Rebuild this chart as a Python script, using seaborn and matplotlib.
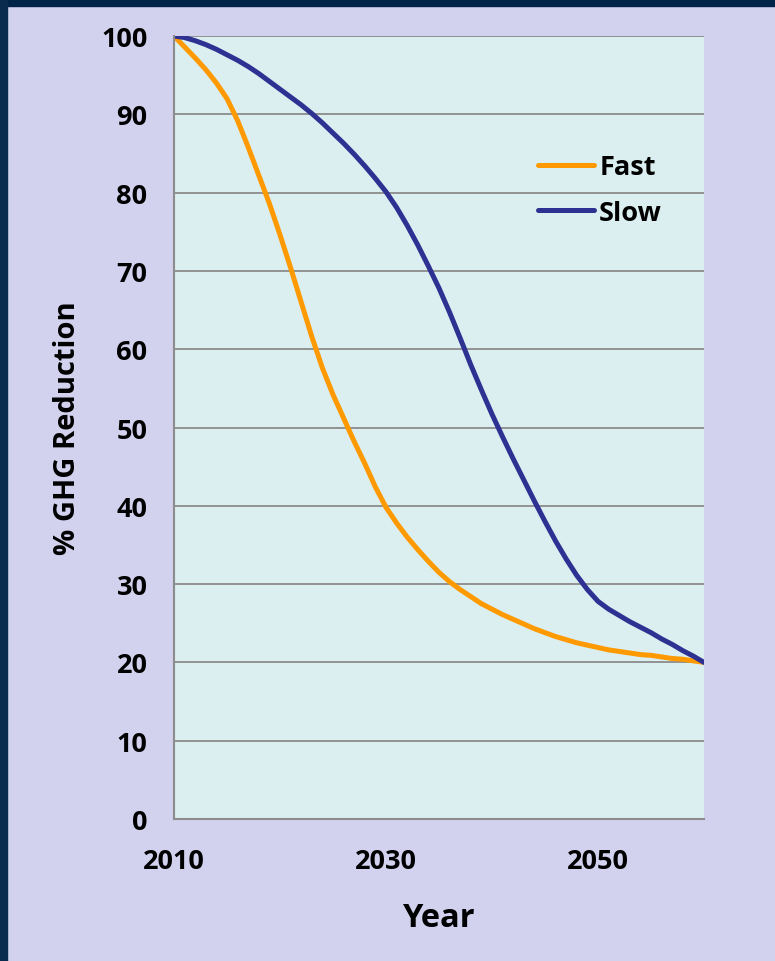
import numpy as np
import pandas as pd
import seaborn as sns
import matplotlib.pyplot as plt
from matplotlib.patches import Rectangle

# valeurs (une par année)
years = list(range(2010, 2061))
fast = [100, 98.6, 97.2, 95.7, 94.0, 92.0, 89.2, 85.8, 82.2, 78.6,
        74.6, 70.4, 66.0, 61.6, 57.6, 54.2, 51.2, 48.2, 45.4, 42.4,
        39.8, 37.8, 36.0, 34.4, 32.9, 31.5, 30.3, 29.3, 28.4, 27.5,
        26.8, 26.1, 25.5, 24.9, 24.3, 23.8, 23.3, 22.9, 22.5, 22.2,
        21.9, 21.6, 21.4, 21.2, 21.0, 20.9, 20.7, 20.5, 20.4, 20.2,
        20.0]
slow = [100, 99.8, 99.4, 98.9, 98.3, 97.6, 96.9, 96.1, 95.2, 94.2,
        93.2, 92.2, 91.2, 90.1, 88.9, 87.6, 86.3, 84.9, 83.4, 81.8,
        80.1, 78.1, 75.8, 73.3, 70.6, 67.8, 64.7, 61.4, 58.0, 54.8,
        51.7, 48.8, 46.0, 43.3, 40.6, 38.0, 35.5, 33.2, 31.1, 29.3,
        27.8, 26.8, 26.0, 25.2, 24.5, 23.8, 23.0, 22.3, 21.5, 20.8,
        20.0]
series = ["Fast", "Slow"]
colors = ["#FF9900", "#2E3192"]
xticks = [2010, 2030, 2050]
yticks = list(range(0, 101, 10))

df = pd.DataFrame({"Year": years * 2,
                   "value": fast + slow,
                   "serie": ["Fast"] * len(years) + ["Slow"] * len(years)})

sns.set_style("white")
plt.rcParams['font.family'] = ['Open Sans', 'DejaVu Sans']
plt.rcParams['text.color'] = 'black'
plt.rcParams['axes.labelcolor'] = 'black'
plt.rcParams['xtick.labelcolor'] = 'black'
plt.rcParams['ytick.labelcolor'] = 'black'

fig = plt.figure(figsize=(7.75, 9.62), dpi=100)
fig.patch.set_facecolor("#D2D2EF")
# bordure sombre en haut et à gauche
fig.patches.append(Rectangle((0, 1 - 7 / 962), 1, 7 / 962, transform=fig.transFigure,
                             color="#00234A", zorder=0))
fig.patches.append(Rectangle((0, 0), 7 / 775, 1, transform=fig.transFigure,
                             color="#0A2A4E", zorder=0))

ax = fig.add_axes([174 / 775, 1 - 820 / 962, 530 / 775, 783 / 962])
ax.set_facecolor("#DBEEF0")

sns.lineplot(data=df, x="Year", y="value", hue="serie", hue_order=series,
             palette=colors, linewidth=3.6, ax=ax)
for ln in ax.get_lines():
    ln.set_solid_joinstyle("round")
    ln.set_solid_capstyle("round")

ax.set_xlim(2010, 2060)
ax.set_ylim(0, 100)
ax.set_xticks(xticks)
ax.set_yticks(yticks)
ax.grid(axis="y", color="#8C8C8C", linewidth=1.3)
ax.set_axisbelow(True)
for s in ["top", "right"]:
    ax.spines[s].set_visible(False)
for s in ["left", "bottom"]:
    ax.spines[s].set_color("#8C8C8C")
    ax.spines[s].set_linewidth(1.5)
ax.tick_params(axis="both", direction="out", length=7, width=1.5, color="#8C8C8C",
               labelsize=19.5, labelcolor="black")
ax.tick_params(axis="y", pad=12)
ax.tick_params(axis="x", pad=14)
for lab in ax.get_xticklabels() + ax.get_yticklabels():
    lab.set_fontweight("bold")

ax.set_xlabel("Year", fontsize=23.5, fontweight="bold", labelpad=19, color="black")
ax.set_ylabel("% GHG Reduction", fontsize=21, fontweight="bold", labelpad=14,
              color="black")

leg = ax.legend(loc="center", bbox_to_anchor=(0.804, 0.8033), frameon=False,
                fontsize=19.5, handlelength=2.05, handletextpad=0.2, labelspacing=0.73)
for t in leg.get_texts():
    t.set_fontweight("bold")
    t.set_color("black")

fig.savefig("out.png", dpi=100, facecolor=fig.get_facecolor())
